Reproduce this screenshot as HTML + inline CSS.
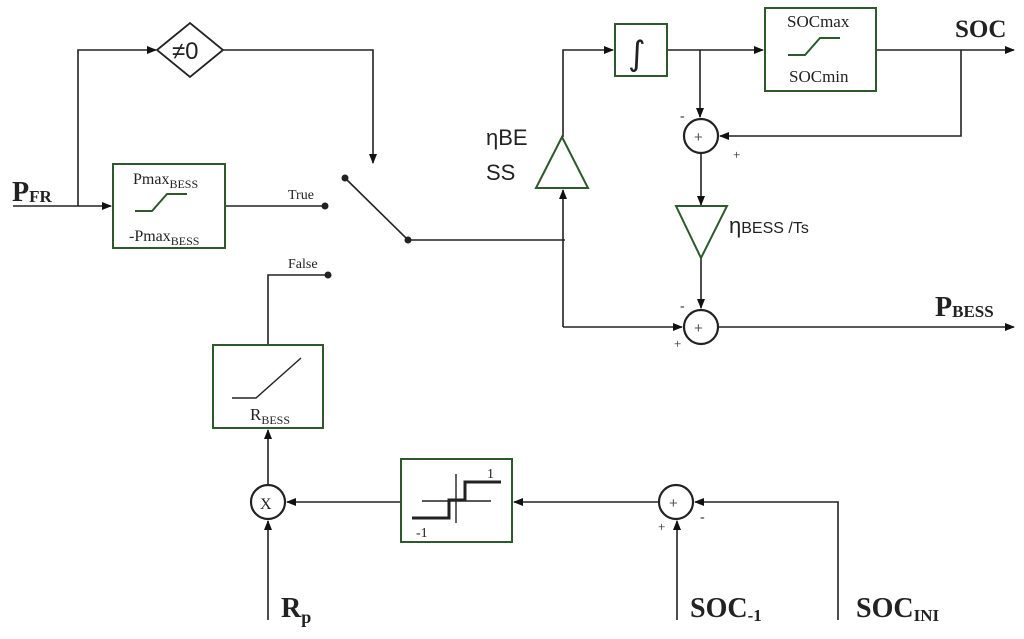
<!DOCTYPE html>
<html><head><style>body{margin:0;background:#fff}</style></head><body>
<svg width="1024" height="634" viewBox="0 0 1024 634" xmlns="http://www.w3.org/2000/svg" font-family="Liberation Serif, serif">
<defs><marker id="a" markerWidth="10" markerHeight="8" refX="9" refY="4" orient="auto" markerUnits="userSpaceOnUse"><path d="M0,0 L10,4 L0,8 z" fill="#111"/></marker></defs>
<g stroke="#222" stroke-width="1.6" fill="none">
<path d="M13,206 H111" marker-end="url(#a)"/>
<path d="M78,206 V50 H156" marker-end="url(#a)"/>
<path d="M223,50 H373 V163" marker-end="url(#a)"/>
<path d="M157,50 L190,23 L223,50 L190,77 Z" stroke-width="1.8"/>
<path d="M225,206 H325"/>
<path d="M345,178 L408,240 H565"/>
<path d="M268,345 V275 H328"/>
<path d="M563,327 V240" />
<path d="M563,240 V190" marker-end="url(#a)"/>
<path d="M563,137 V50 H613" marker-end="url(#a)"/>
<path d="M667,50 H763" marker-end="url(#a)"/>
<path d="M700,50 V117" marker-end="url(#a)"/>
<path d="M876,50 H1014" marker-end="url(#a)"/>
<path d="M961,50 V136 H720" marker-end="url(#a)"/>
<circle cx="701" cy="136" r="17" stroke-width="2.2"/>
<path d="M701,153 V205" marker-end="url(#a)"/>
<path d="M701,258 V308" marker-end="url(#a)"/>
<circle cx="701" cy="327" r="17" stroke-width="2.2"/>
<path d="M563,327 H682" marker-end="url(#a)"/>
<path d="M718,327 H1014" marker-end="url(#a)"/>
<path d="M268,485 V430" marker-end="url(#a)"/>
<circle cx="268" cy="502" r="17" stroke-width="2.2"/>
<path d="M268,620 V521" marker-end="url(#a)"/>
<path d="M401,502 H287" marker-end="url(#a)"/>
<path d="M659,502 H514" marker-end="url(#a)"/>
<circle cx="676" cy="502" r="17" stroke-width="2.2"/>
<path d="M677,620 V521" marker-end="url(#a)"/>
<path d="M838,620 V502 H695" marker-end="url(#a)"/>
</g>
<g fill="#222">
<circle cx="325" cy="206" r="3.5"/><circle cx="345" cy="178" r="3.5"/><circle cx="408" cy="240" r="3.5"/><circle cx="328" cy="275" r="3.5"/>
</g>
<g stroke="#2d5a2d" stroke-width="2" fill="#fff">
<rect x="113" y="164" width="112" height="84"/>
<rect x="615" y="24" width="52" height="52"/>
<rect x="765" y="8" width="111" height="83"/>
<rect x="213" y="345" width="110" height="83"/>
<rect x="401" y="459" width="111" height="83"/>
<path d="M536,188 L562,137 L588,188 Z"/>
<path d="M676,206 L727,206 L701,258 Z"/>
<path d="M135,211 H152 L167,194 H187" fill="none"/>
<path d="M788,55 H805 L820,38 H840" fill="none"/>
</g>
<g stroke="#222" fill="none">
<path d="M232,398 H256 L301,358" stroke-width="1.4"/>
<path d="M422,501 H491 M456,474 V523" stroke-width="1.4"/>
<path d="M412,518 H449 V500 H465 V482 H501" stroke-width="3"/>
</g>
<g fill="#222" font-size="16">
<text x="133" y="184">Pmax<tspan font-size="12" dy="4">BESS</tspan></text>
<text x="129" y="241">-Pmax<tspan font-size="12" dy="4">BESS</tspan></text>
<text x="288" y="199" font-size="14">True</text>
<text x="288" y="268" font-size="14">False</text>
<text x="787" y="27" font-size="17">SOCmax</text>
<text x="789" y="82" font-size="17">SOCmin</text>
<text x="250" y="420" font-size="17">R<tspan font-size="12" dy="4">BESS</tspan></text>
<text x="487" y="478" font-size="14">1</text>
<text x="416" y="537" font-size="14">-1</text>
<text x="260" y="509" font-size="16">X</text>
<text x="694" y="142" font-size="15" font-family="Liberation Sans, sans-serif" fill="#555">+</text>
<text x="694" y="333" font-size="15" font-family="Liberation Sans, sans-serif" fill="#555">+</text>
<text x="669" y="508" font-size="15" font-family="Liberation Sans, sans-serif" fill="#555">+</text>
<text x="680" y="120" font-size="14">-</text>
<text x="733" y="159" font-size="13">+</text>
<text x="680" y="310" font-size="14">-</text>
<text x="674" y="348" font-size="13">+</text>
<text x="658" y="531" font-size="13">+</text>
<text x="700" y="521" font-size="14">-</text>
<text x="628" y="65" font-size="34" font-family="DejaVu Sans, sans-serif">∫</text>
<text x="172" y="59" font-size="24" font-family="Liberation Sans, sans-serif">≠0</text>
<g font-family="Liberation Sans, sans-serif" font-size="22">
<text x="486" y="145">ηBE</text><text x="486" y="180">SS</text>
<text x="729" y="233">η<tspan font-size="16">BESS /Ts</tspan></text>
</g>
<g font-weight="bold" font-size="28">
<text x="12" y="201">P<tspan font-size="17" dy="1">FR</tspan></text>
<text x="955" y="37" font-size="25">SOC</text>
<text x="935" y="316">P<tspan font-size="17" dy="1">BESS</tspan></text>
<text x="281" y="617">R<tspan font-size="18" dy="6">p</tspan></text>
<text x="690" y="617">SOC<tspan font-size="17" dy="4">-1</tspan></text>
<text x="856" y="617">SOC<tspan font-size="17" dy="4">INI</tspan></text>
</g>
</g>
</svg>
</body></html>
